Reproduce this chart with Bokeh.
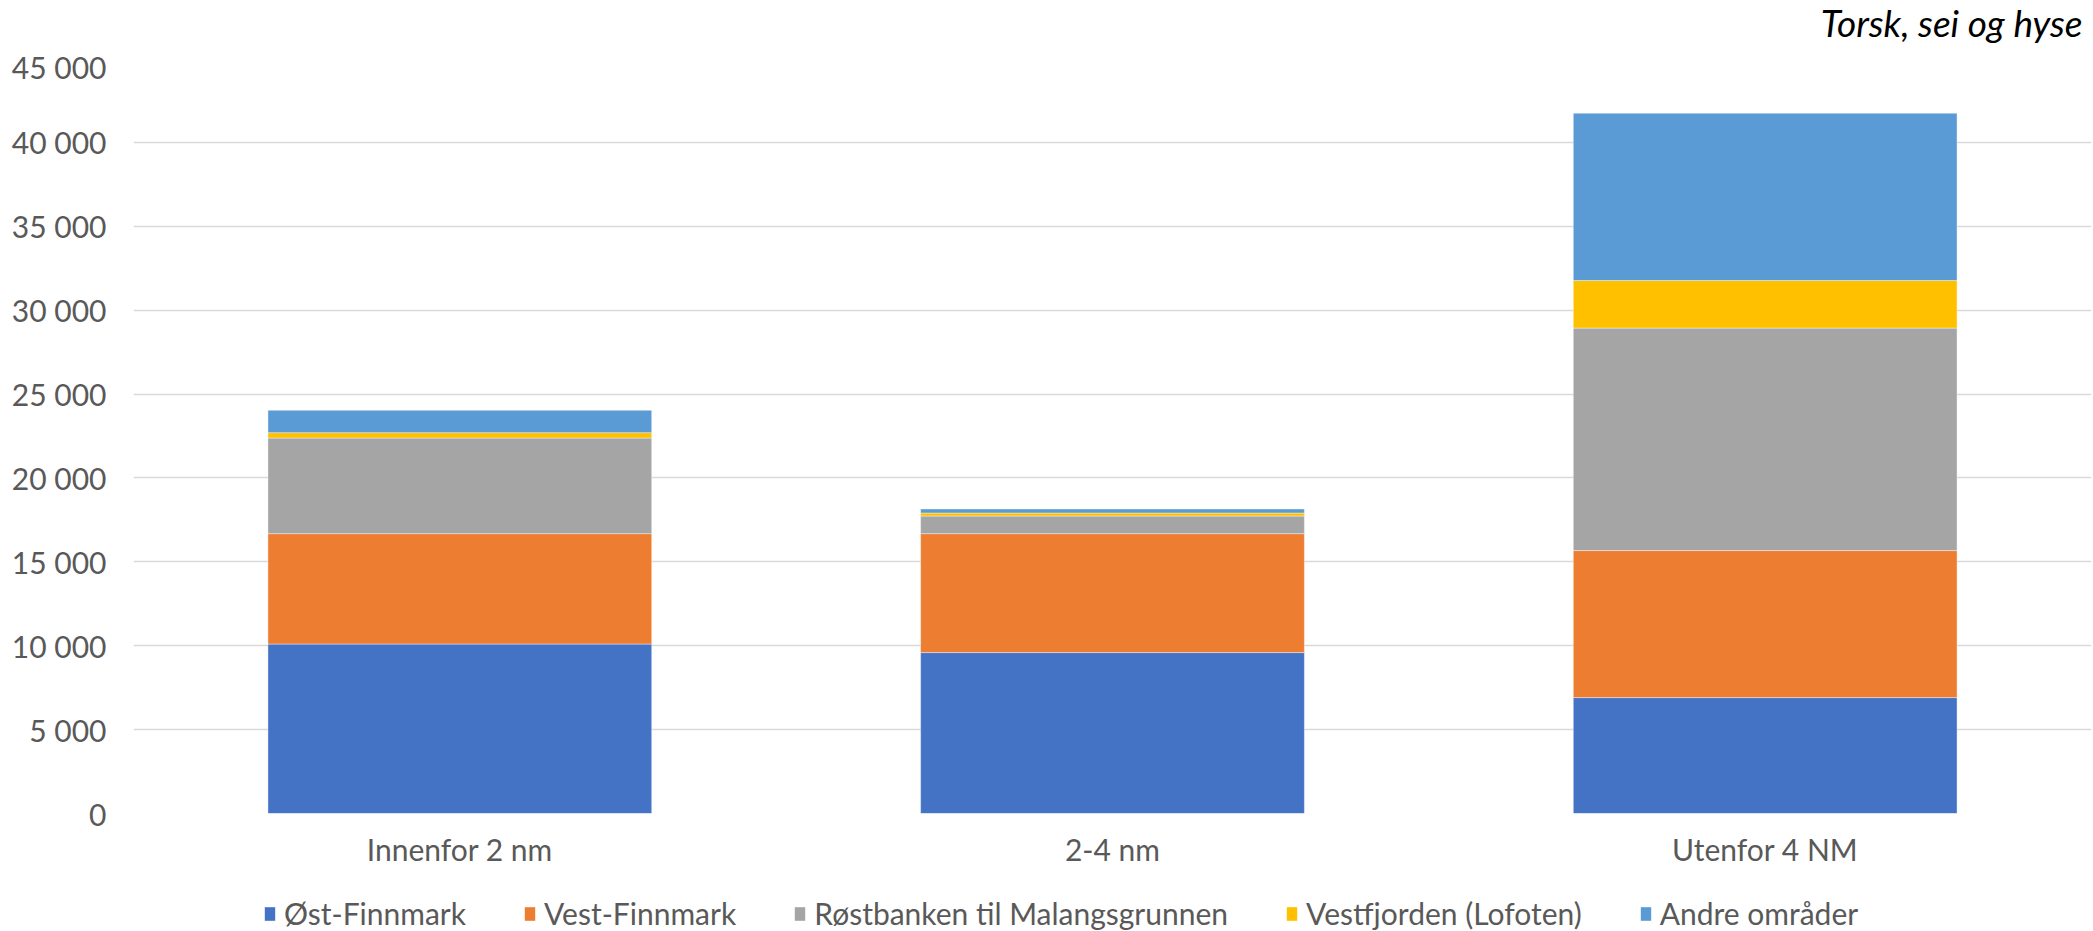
from bokeh.plotting import figure
from bokeh.layouts import column
from bokeh.models import (ColumnDataSource, FactorRange, Range1d, FixedTicker, Legend,
                          LegendItem, Label)
from bokeh.embed import file_html
from bokeh.resources import INLINE

categories = ["Innenfor 2 nm", "2-4 nm", "Utenfor 4 NM"]
series_names = ["Øst-Finnmark", "Vest-Finnmark", "Røstbanken til Malangsgrunnen",
                "Vestfjorden (Lofoten)", "Andre områder"]
ost = [10100, 9590, 6910]
vest = [6580, 7090, 8760]
rost = [5700, 1050, 13260]
vestfjorden = [320, 180, 2840]
andre = [1330, 240, 9970]
colors = ["#4472C4", "#ED7D31", "#A5A5A5", "#FFC000", "#5B9BD5"]
y_ticks = [0, 5000, 10000, 15000, 20000, 25000, 30000, 35000, 40000, 45000]
y_tick_labels = ["0", "5 000", "10 000", "15 000", "20 000", "25 000",
                 "30 000", "35 000", "40 000", "45 000"]
title_text = "Torsk, sei og hyse"

keys = ["s0", "s1", "s2", "s3", "s4"]
source = ColumnDataSource(data=dict(cat=categories, s0=ost, s1=vest, s2=rost, s3=vestfjorden, s4=andre))

FONT = "Lato"
TXT = "#595959"
W = 2093
H_TOP = 48
H_MAIN = 843
H_LEG = 40

# slim title strip on top
top = figure(width=W, height=H_TOP, output_backend="svg", toolbar_location=None,
             x_range=Range1d(0, 1), y_range=Range1d(0, 1),
             x_axis_location=None, y_axis_location=None,
             min_border_left=0, min_border_right=0, min_border_top=0, min_border_bottom=0)
top.grid.visible = False
top.outline_line_color = None
top.add_layout(Label(x=1, y=0.54, text=title_text, text_align="right", text_baseline="middle",
                     x_offset=-9, text_font=FONT, text_font_style="italic",
                     text_font_size="37px", text_color="black"))

p = figure(x_range=FactorRange(*categories, range_padding=0), y_range=Range1d(0, 45000),
           width=W, height=H_MAIN, output_backend="svg", toolbar_location=None,
           min_border_left=133, min_border_right=2, min_border_top=10, min_border_bottom=78)

renderers = p.vbar_stack(keys, x="cat", width=0.588, color=colors, source=source,
                         line_color="white", line_width=0.8, line_alpha=0.5)

p.outline_line_color = None
p.xgrid.grid_line_color = None
p.ygrid.grid_line_color = "#D9D9D9"
p.ygrid.grid_line_width = 1.5

p.yaxis.ticker = FixedTicker(ticks=y_ticks)
p.yaxis.major_label_overrides = {t: l for t, l in zip(y_ticks, y_tick_labels)}
for ax in (p.xaxis, p.yaxis):
    ax.axis_line_color = None
    ax.major_tick_line_color = None
    ax.minor_tick_line_color = None
    ax.major_tick_out = 0
    ax.major_tick_in = 0
    ax.major_label_text_font = FONT
    ax.major_label_text_font_size = "30px"
    ax.major_label_text_color = TXT
p.yaxis.major_label_standoff = 27
p.xaxis.major_label_standoff = 17

# legend in a slim companion figure directly under the chart; its zero-width bars draw nothing
leg = figure(width=W, height=H_LEG, output_backend="svg", toolbar_location=None,
             x_range=FactorRange(*categories), y_range=Range1d(-2, -1),
             x_axis_location=None, y_axis_location=None,
             min_border_left=0, min_border_right=0, min_border_top=0, min_border_bottom=0)
leg.grid.visible = False
leg.outline_line_color = None
leg_renderers = leg.vbar_stack(keys, x="cat", width=0, fill_color=colors, line_alpha=0,
                               source=source)
items = [LegendItem(label=n, renderers=[r]) for n, r in zip(series_names, leg_renderers)]
legend = Legend(items=items, orientation="horizontal", location=(130, 0),
                glyph_width=13, glyph_height=17, label_standoff=8, spacing=57,
                padding=0, margin=0, border_line_color=None, background_fill_alpha=0,
                label_text_font=FONT, label_text_font_size="30px", label_text_color=TXT)
leg.add_layout(legend, "center")

layout = column(top, p, leg, spacing=0)
open("out.html", "w").write(file_html(layout, INLINE))
